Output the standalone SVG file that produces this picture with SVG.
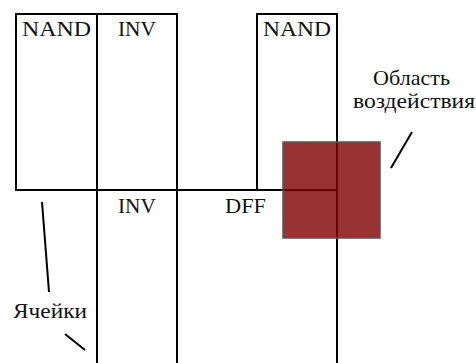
<svg xmlns="http://www.w3.org/2000/svg" width="476" height="363" viewBox="0 0 476 363">
<style>
.cell{fill:none;stroke:#000;stroke-width:2}
.ln{stroke:#000;stroke-width:2;fill:none}
text{font-family:'Liberation Serif','Times New Roman',serif;font-size:22px;fill:#111}
</style>
<rect width="476" height="363" fill="#fff"/>
<g id="nand1"><rect class="cell" x="16" y="14" width="81" height="176"/><text x="22" y="36" textLength="69" lengthAdjust="spacingAndGlyphs">NAND</text></g>
<g id="inv1"><rect class="cell" x="97" y="14" width="80" height="176"/><text x="118" y="36" textLength="38" lengthAdjust="spacingAndGlyphs">INV</text></g>
<g id="nand2"><rect class="cell" x="257" y="14" width="80" height="176"/><text x="263" y="36" textLength="68" lengthAdjust="spacingAndGlyphs">NAND</text></g>
<g id="inv2"><path class="ln" d="M97,190 V363 M177,190 V363 M97,190 H177"/><text x="118" y="213" textLength="38" lengthAdjust="spacingAndGlyphs">INV</text></g>
<g id="dff"><path class="ln" d="M177,190 H337 V363"/><text x="225" y="213" textLength="41" lengthAdjust="spacingAndGlyphs">DFF</text></g>
<g id="area"><rect x="283" y="142" width="97" height="96" fill="#800000" fill-opacity="0.8" stroke="#555" stroke-width="1.5"/></g>
<g id="label-area"><text x="373" y="85" textLength="77" lengthAdjust="spacingAndGlyphs">Область</text><text x="353" y="108" textLength="122" lengthAdjust="spacingAndGlyphs">воздействия</text></g>
<g id="label-cells"><text x="13" y="318" textLength="74" lengthAdjust="spacingAndGlyphs">Ячейки</text></g>
<g id="connectors">
<line class="ln" x1="42" y1="202" x2="49" y2="292"/>
<line class="ln" x1="65" y1="334" x2="85" y2="350"/>
<line class="ln" x1="412" y1="132" x2="391" y2="168"/>
</g>
</svg>
